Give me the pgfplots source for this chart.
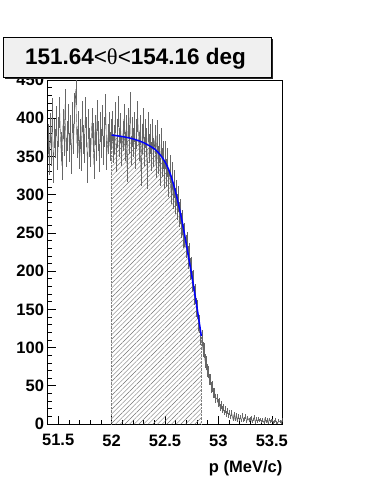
\documentclass[border=0pt]{standalone}
\usepackage{fontspec}
\setmainfont{Liberation Sans}
\newfontfamily\symfont{Liberation Serif}
\usepackage{pgfplots}
\pgfplotsset{compat=1.18}
\usetikzlibrary{patterns.meta}

\begin{document}
\begin{tikzpicture}
\path[use as bounding box] (0,0) rectangle (381pt,-493pt);
\begin{axis}[
  at={(47.5pt,-424pt)}, anchor=south west,
  scale only axis, width=235pt, height=344pt,
  xmin=51.4, xmax=53.6, ymin=0, ymax=450,
  xtick={51.5,52,52.5,53,53.5},
  xticklabels={51.5,52,52.5,53,53.5},
  ytick={0,50,...,450},
  minor x tick num=4, minor y tick num=4,
  tick align=inside, xtick pos=left, ytick pos=left,
  major tick length=8pt, minor tick length=4pt,
  tick style={black, line width=0.6pt},
  ticklabel style={font=\fontsize{16.5}{18}\selectfont\bfseries},
  /pgf/number format/assume math mode=true,
  xticklabel style={yshift=-7pt},
  axis line style={line width=0.8pt},
]

% hatched area under the fit range
\addplot[draw=none, pattern={Lines[angle=45, distance=3.3pt, line width=0.45pt]}, pattern color=black!55]
  coordinates {(52.0,378) (52.1,376) (52.2,373) (52.3,368) (52.4,360) (52.45,353)
  (52.5,343) (52.55,327) (52.6,303) (52.65,272) (52.7,235) (52.75,195) (52.8,152) (52.84,115)}
  \closedcycle;
\addplot[black!50, densely dotted, line width=0.4pt] coordinates {(52.0,0) (52.0,378)};
\addplot[black!50, densely dotted, line width=0.4pt] coordinates {(52.84,0) (52.84,115)};

% histogram with errors
\addplot[black!65, line width=0.4pt, no marks,
  error bars/.cd, y dir=both, y explicit, error mark=none,
  error bar style={black!60, line width=0.6pt}]
  table[row sep=\\, x=x, y=y, y error expr={sqrt(\thisrow{y})}] {
x y\\
51.405 373\\ 51.415 344\\ 51.425 387\\ 51.435 356\\ 51.445 406\\ 51.455 333\\ 51.465 380\\ 51.475 367\\ 51.485 396\\ 51.495 351\\
51.505 382\\ 51.515 407\\ 51.525 363\\ 51.535 338\\ 51.545 392\\ 51.555 370\\ 51.565 418\\ 51.575 355\\ 51.585 377\\ 51.595 399\\
51.605 362\\ 51.615 385\\ 51.625 346\\ 51.635 401\\ 51.645 373\\ 51.655 413\\ 51.665 438\\ 51.675 367\\ 51.685 390\\ 51.695 353\\
51.705 379\\ 51.715 350\\ 51.725 402\\ 51.735 372\\ 51.745 360\\ 51.755 407\\ 51.765 382\\ 51.775 334\\ 51.785 392\\ 51.795 368\\
51.805 355\\ 51.815 394\\ 51.825 375\\ 51.835 339\\ 51.845 385\\ 51.855 363\\ 51.865 404\\ 51.875 377\\ 51.885 348\\ 51.895 389\\
51.905 367\\ 51.915 397\\ 51.925 358\\ 51.935 382\\ 51.945 411\\ 51.955 351\\ 51.965 373\\ 51.975 389\\ 51.985 363\\ 51.995 379\\
52.005 390\\ 52.015 360\\ 52.025 372\\ 52.035 401\\ 52.045 348\\ 52.055 380\\ 52.065 409\\ 52.075 368\\ 52.085 387\\ 52.095 356\\
52.105 377\\ 52.115 399\\ 52.125 363\\ 52.135 385\\ 52.145 335\\ 52.155 394\\ 52.165 372\\ 52.175 414\\ 52.185 358\\ 52.195 382\\
52.205 368\\ 52.215 389\\ 52.225 353\\ 52.235 379\\ 52.245 402\\ 52.255 363\\ 52.265 384\\ 52.275 330\\ 52.285 373\\ 52.295 394\\
52.305 356\\ 52.315 380\\ 52.325 368\\ 52.335 325\\ 52.345 389\\ 52.355 360\\ 52.365 373\\ 52.375 350\\ 52.385 379\\ 52.395 355\\
52.405 372\\ 52.415 340\\ 52.425 378\\ 52.435 345\\ 52.445 360\\ 52.455 330\\ 52.465 368\\ 52.475 342\\ 52.485 352\\ 52.495 326\\
52.505 352\\ 52.515 328\\ 52.525 342\\ 52.535 315\\ 52.545 334\\ 52.555 305\\ 52.565 325\\ 52.575 298\\ 52.585 314\\ 52.595 292\\
52.605 302\\ 52.615 284\\ 52.625 294\\ 52.635 274\\ 52.645 278\\ 52.655 260\\ 52.665 264\\ 52.675 246\\ 52.685 247\\ 52.695 232\\
52.705 236\\ 52.715 218\\ 52.725 222\\ 52.735 203\\ 52.745 204\\ 52.755 186\\ 52.765 188\\ 52.775 168\\ 52.785 170\\ 52.795 152\\
52.805 150\\ 52.815 133\\ 52.825 131\\ 52.835 114\\ 52.845 112\\ 52.855 97\\ 52.865 96\\ 52.875 82\\ 52.885 80\\ 52.895 70\\
52.905 68\\ 52.915 58\\ 52.925 58\\ 52.935 48\\ 52.945 49\\ 52.955 41\\ 52.965 41\\ 52.975 33\\ 52.985 34\\ 52.995 28\\
53.005 29\\ 53.015 22\\ 53.025 25\\ 53.035 19\\ 53.045 22\\ 53.055 15\\ 53.065 19\\ 53.075 13\\ 53.085 17\\ 53.095 11\\
53.105 15\\ 53.115 9\\ 53.125 14\\ 53.135 7\\ 53.145 12\\ 53.155 6\\ 53.165 11\\ 53.175 5\\ 53.185 10\\ 53.195 6\\
53.205 9\\ 53.215 4\\ 53.225 11\\ 53.235 5\\ 53.245 7\\ 53.255 10\\ 53.265 3\\ 53.275 8\\ 53.285 5\\ 53.295 7\\
53.305 8\\ 53.315 3\\ 53.325 6\\ 53.335 9\\ 53.345 2\\ 53.355 7\\ 53.365 3\\ 53.375 7\\ 53.385 4\\ 53.395 6\\
53.405 3\\ 53.415 5\\ 53.425 2\\ 53.435 7\\ 53.445 3\\ 53.455 5\\ 53.465 1\\ 53.475 6\\ 53.485 3\\ 53.495 4\\
53.505 4\\ 53.515 2\\ 53.525 3\\ 53.535 5\\ 53.545 2\\ 53.555 1\\ 53.565 4\\ 53.575 3\\ 53.585 2\\ 53.595 5\\
};

% fit
\addplot[blue, line width=1.5pt, smooth, tension=0.5]
  coordinates {(52.0,378) (52.1,376) (52.2,373) (52.3,368) (52.4,360) (52.45,353)
  (52.5,343) (52.55,327) (52.6,303) (52.65,272) (52.7,235) (52.75,195) (52.8,152) (52.84,115)};
\end{axis}

% title box with shadow
\fill[black!85] (5pt,-39pt) rectangle (273pt,-79pt);
\draw[fill=black!6, line width=0.6pt] (3pt,-37pt) rectangle (271pt,-77pt);
\node[font=\fontsize{22.5}{25}\selectfont, inner sep=0pt] at (135.5pt,-58.5pt)
  {\textbf{151.64}<{\symfont θ}<\textbf{154.16 deg}};

\node[anchor=east, font=\fontsize{16.5}{18}\selectfont\bfseries, inner sep=0pt]
  at (282.5pt,-468pt) {p (MeV/c)};
\end{tikzpicture}
\end{document}
